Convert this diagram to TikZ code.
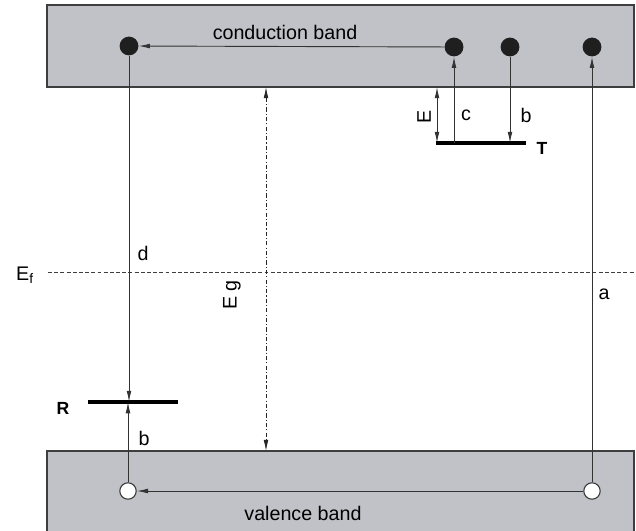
\documentclass[tikz,border=0pt]{standalone}
\usepackage{fontspec}
\setmainfont{Liberation Sans}
\usetikzlibrary{arrows.meta}
\definecolor{bandgray}{RGB}{193,194,199}
\definecolor{darkline}{RGB}{62,62,62}
\tikzset{band/.style = {fill = bandgray, draw = darkline, line width = 1.2pt},
         electron/.style = {circle, fill = black!88, minimum size = 0.47cm, inner sep = 0pt},
         hole/.style = {circle, draw = darkline, fill = white, line width = 0.8pt,
                        minimum size = 0.41cm, inner sep = 0pt},
         trans/.style = {draw = black!80, line width = 0.65pt, -{Latex[length=8pt,width=3.4pt]}},
         level/.style = {line width = 2.8pt},
         lab/.style = {font = \fontsize{14}{16}\selectfont, inner sep = 0pt},
         blab/.style = {font = \fontsize{12.5}{14}\selectfont\bfseries, inner sep = 0pt}
        }

\begin{document}
\begin{tikzpicture}[x=0.025cm, y=-0.025cm]
\useasboundingbox (0,0) rectangle (636,531);
% bands
\draw[band] (47,5) rectangle (634,87);
\fill[bandgray] (47,451) rectangle (634,531);
\draw[darkline, line width = 1.2pt] (47,531) |- (634,451) -- (634,531);
\node[lab] (cbl) at (285,32) {conduction band};
\node[lab] (vbl) at (303,513) {valence band};
% Fermi level
\coordinate (efa) at (48,272);
\coordinate (efb) at (636,272);
\draw[darkline, line width = 0.6pt, dash pattern = on 2.8pt off 1.6pt] (efa) -- (efb);
\node[font = \fontsize{14}{16}\selectfont, inner sep = 0pt] (ef) at (25,275) {E\textsubscript{f}};
% gap
\coordinate (cbot) at (266,87);
\coordinate (vtop) at (266,451);
\draw[black!85, line width = 0.6pt, dash pattern = on 3pt off 1.5pt on 0.8pt off 1.5pt,
      {Latex[length=8pt,width=3.4pt]}-{Latex[length=8pt,width=3.4pt]}] (cbot) -- (vtop);
\node[lab, rotate = 90] (eg) at (232,295) {E g};
% levels
\coordinate (tl) at (436,143);
\coordinate (tr) at (526,143);
\draw[level] (tl) -- (tr);
\node[blab] (tlab) at (542,148) {T};
\coordinate (rl) at (88,402);
\coordinate (rr) at (178,402);
\draw[level] (rl) -- (rr);
\node[blab] (rlab) at (63,408) {R};
% carriers
\node[electron] (e1) at (129,46) {};
\node[electron] (e2) at (454,47) {};
\node[electron] (e3) at (510,47) {};
\node[electron] (e4) at (592,47) {};
\node[hole] (h1) at (128,491) {};
\node[hole] (h2) at (592,491) {};
% transitions
\draw[trans] (e2) -- (e1);
\draw[trans] (h2) -- (h1);
\draw[trans] (h2) -- (e4);
\draw[trans] (e2 |- tl) -- (e2);
\draw[trans] (e3) -- (e3 |- tl);
\draw[trans] (e1) -- (e1 |- rl);
\draw[trans] (h1) -- (h1 |- rl);
\coordinate (ee) at (437,87);
\draw[trans, {Latex[length=8pt,width=3.4pt]}-{Latex[length=8pt,width=3.4pt]}] (ee) -- (ee |- tl);
\node[lab] (c) at (466,115) {c};
\node[lab] (b1) at (526,115) {b};
\node[lab, rotate = 90] (et) at (424,117) {E};
\node[lab] (a) at (604,294) {a};
\node[lab] (d) at (143,253) {d};
\node[lab] (b2) at (144,438) {b};
\end{tikzpicture}
\end{document}
